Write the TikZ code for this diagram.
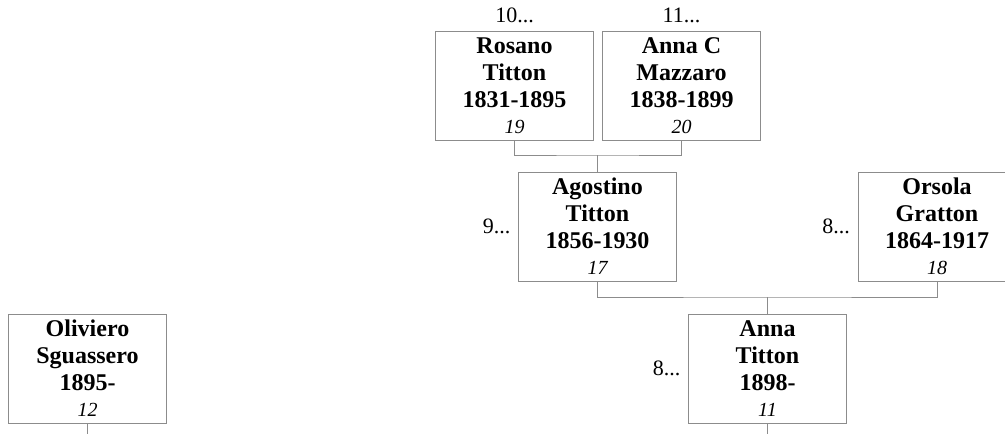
\documentclass[tikz,border=0pt]{standalone}
\usepackage{fontspec}
\setmainfont{Liberation Serif}
\usepackage{tikz}
\usetikzlibrary{positioning}

\tikzset{
  person/.style={draw=gray!90, line width=1pt, minimum width=158pt, minimum height=109pt,
    inner sep=0pt, align=center, font=\fontsize{24}{27}\selectfont\bfseries},
  more/.style={font=\fontsize{22}{24}\selectfont, label distance=4pt},
  link/.style={draw=gray!90, line width=1pt}
}
\newcommand{\pnum}[1]{\\[-1pt]{\fontsize{20}{24}\selectfont\mdseries\itshape #1}}

\begin{document}
\begin{tikzpicture}[x=1pt, y=-1pt]
        \useasboundingbox (0,0) rectangle (1005,434);
        \clip (0,0) rectangle (1005,434);
        % grandparents
        \node[person, label={[more]above:10...}] (rosano) at (514.5,85.5) {Rosano\\Titton\\1831-1895\pnum{19}};
        \node[person, label={[more]above:11...}, right=8pt of rosano] (annac) {Anna C\\Mazzaro\\1838-1899\pnum{20}};
        % parents
        \node[person, label={[more]left:9...}] (agostino) at (597.5,226.5) {Agostino\\Titton\\1856-1930\pnum{17}};
        \node[person, label={[more]left:8...}] (orsola) at (937,226.5) {Orsola\\Gratton\\1864-1917\pnum{18}};
        % couple
        \node[person, label={[more]left:8...}] (annat) at (767.5,368.5) {Anna\\Titton\\1898-\pnum{11}};
        \node[person] (oliviero) at (87.5,368.5) {Oliviero\\Sguassero\\1895-\pnum{12}};

        \coordinate (fam1) at (597.5,155);
        \coordinate (fam2) at (767.5,297);
        \coordinate (downa) at (767.5,434);
        \coordinate (downo) at (87.5,434);

        \draw[link] (rosano.south) |- (fam1) -| (annac.south);
        \draw[link] (fam1) -- (agostino.north);
        \draw[link] (agostino.south) |- (fam2) -| (orsola.south);
        \draw[link] (fam2) -- (annat.north);
        \draw[link] (annat.south) -- (downa);
        \draw[link] (oliviero.south) -- (downo);
    \end{tikzpicture}
\end{document}
